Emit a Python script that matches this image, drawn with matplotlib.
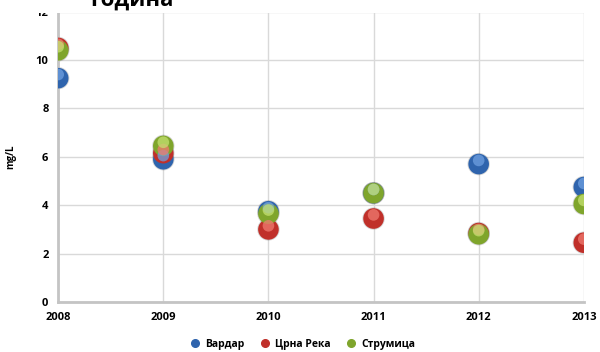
import numpy as np
import matplotlib
matplotlib.use('Agg')
import matplotlib.pyplot as plt
from matplotlib.patches import Rectangle

plt.rcParams['font.family'] = ['Open Sans', 'DejaVu Sans']

years = [2008, 2009, 2010, 2011, 2012, 2013]
vardar = [9.25, 5.9, 3.75, 4.5, 5.7, 4.75]
crna_reka = [10.5, 6.15, 3.0, 3.45, 2.85, 2.45]
strumica = [10.4, 6.45, 3.65, 4.5, 2.8, 4.05]

series = [('Вардар', vardar, '#2f64ad', '#6fa0e0'),
          ('Црна Река', crna_reka, '#c0302a', '#f07a70'),
          ('Струмица', strumica, '#7fa52c', '#c4e070')]

fig = plt.figure(figsize=(6, 3.52), dpi=100)
ax = fig.add_axes([0.097, 0.142, 0.876, 0.825])

for name, vals, dark, light in series:
    # shadow, ball, highlight
    cols = [
        ax.scatter(years, vals, s=260, color='#00000028', edgecolors='none', zorder=2),
        ax.scatter(years, vals, s=220, color=dark, edgecolors='none', zorder=3, label=name),
        ax.scatter(years, [v + 0.15 for v in vals], s=70, color=light, edgecolors='none',
                   alpha=0.75, zorder=4),
    ]
    for c in cols:
        c.set_clip_path(ax.patch)

ax.set_xlim(2008, 2013)
ax.set_ylim(0, 12)
ax.set_xticks(years)
ax.set_yticks(range(0, 13, 2))
ax.grid(True, color='#d9d9d9', linewidth=1)
ax.set_axisbelow(True)
for s in ['top', 'right']:
    ax.spines[s].set_visible(False)
for s in ['left', 'bottom']:
    ax.spines[s].set_color('#c4c4c4')
    ax.spines[s].set_linewidth(2)
ax.tick_params(length=0, labelsize=8, pad=7)
for lab in ax.get_xticklabels() + ax.get_yticklabels():
    lab.set_fontweight('bold')

ax.set_ylabel('mg/L', fontsize=7, fontweight='bold', labelpad=14)

handles = [plt.Line2D([], [], marker='o', linestyle='', markersize=5.5,
                      markerfacecolor=c, markeredgecolor=c) for _, _, c, _ in series]
fig.legend(handles, [n for n, _, _, _ in series], loc='center', bbox_to_anchor=(0.5, 0.022),
           ncol=3, frameon=False, handletextpad=0.05, columnspacing=0.9,
           prop={'size': 7.5, 'weight': 'bold'})

# title box covering the top of the plot, as in the cropped original
fig.patches.append(Rectangle((0, 0.964), 1, 0.04, transform=fig.transFigure,
                             facecolor='white', edgecolor='none', zorder=5))
fig.text(0.22, 0.985, 'година', fontsize=16, fontweight='bold', ha='center',
         va='baseline', zorder=6)

fig.savefig('out.png', dpi=100)
